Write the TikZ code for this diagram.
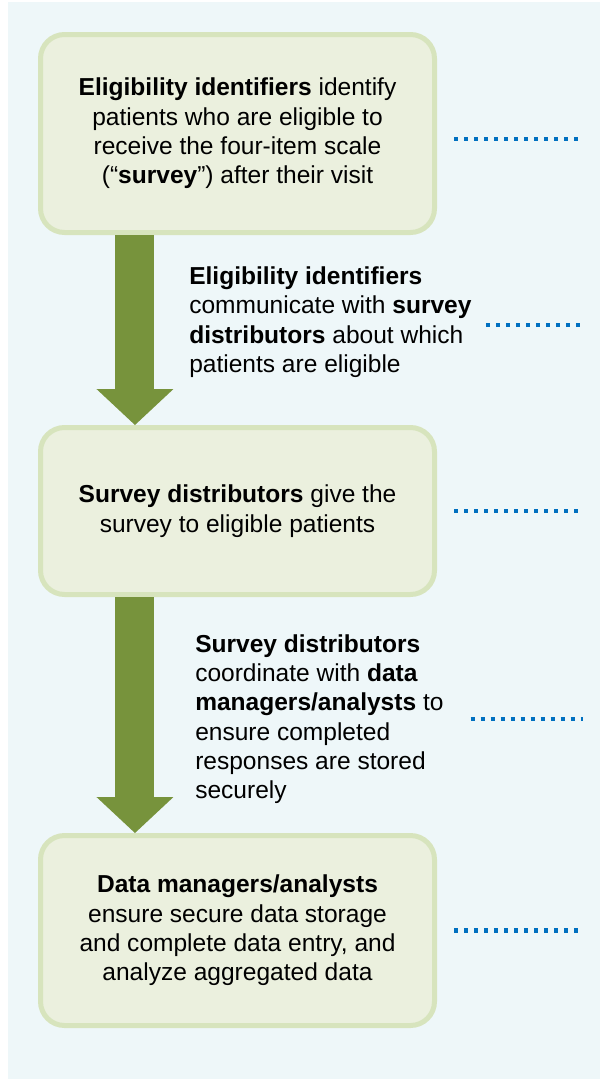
\documentclass[tikz,border=0pt]{standalone}
\usepackage{fontspec}
\setmainfont{Liberation Sans}
\usetikzlibrary{arrows.meta}

\definecolor{panelblue}{HTML}{EEF7F9}
\definecolor{boxfill}{HTML}{EBF0DE}
\definecolor{boxline}{HTML}{D7E4BD}
\definecolor{flowgreen}{HTML}{77933C}
\definecolor{linkblue}{HTML}{0070C0}

\begin{document}
\begin{tikzpicture}[x=0.75pt, y=-0.75pt,
  every node/.style={font=\fontsize{18.4}{22}\selectfont},
  stage/.style={draw=boxline, fill=boxfill, line width=3.75pt, rounded corners=18pt,
    minimum width=295.5pt, align=center},
  note/.style={anchor=west, align=left, inner sep=0pt},
  flow/.style={draw=flowgreen, line width=29.25pt,
    -{Triangle[length=27pt, width=57.75pt, line width=0pt]}},
  link/.style={draw=linkblue, line width=3.2pt, dash pattern=on 3.2pt off 4.3pt}]

  \useasboundingbox (0,0) rectangle (600,1079);
  \fill [panelblue] (8,2) rectangle (600,1079);
  \coordinate (rim) at (583,0);

  % the three stages
  \node [stage, minimum height=148.5pt] (elig) at (237.5,133.5)
    {\textbf{Eligibility identifiers} identify\\patients who are eligible to\\receive the four-item scale\\(“\textbf{survey}”) after their visit};
  \node [stage, minimum height=125.25pt] (dist) at (237.5,511)
    {\textbf{Survey distributors} give the\\survey to eligible patients};
  \node [stage, minimum height=142.5pt] (data) at (237.5,930.5)
    {\textbf{Data managers/analysts}\\ensure secure data storage\\and complete data entry, and\\analyze aggregated data};

  % hand-over notes
  \node [note] (note1) at (189,322)
    {\textbf{Eligibility identifiers}\\communicate with \textbf{survey}\\\textbf{distributors} about which\\patients are eligible};
  \node [note] (note2) at (195,719)
    {\textbf{Survey distributors}\\coordinate with \textbf{data}\\\textbf{managers/analysts} to\\ensure completed\\responses are stored\\securely};

  % arrows run down the left side of the stages
  \draw [flow] ([xshift=-76.9pt]elig.south) -- ([xshift=-76.9pt]dist.north);
  \draw [flow] ([xshift=-76.9pt]dist.south) -- ([xshift=-76.9pt]data.north);

  \draw [link] ([xshift=12.75pt,yshift=-4pt]elig.east) -- ([yshift=-4pt]elig.east -| rim);
  \draw [link] ([xshift=10.5pt,yshift=-2pt]note1.east) -- ([yshift=-2pt]note1.east -| rim);
  \draw [link] ([xshift=12.75pt]dist.east) -- (dist.east -| rim);
  \draw [link] ([xshift=20.25pt]note2.east) -- (note2.east -| rim);
  \draw [link] ([xshift=12.75pt]data.east) -- (data.east -| rim);
\end{tikzpicture}
\end{document}
